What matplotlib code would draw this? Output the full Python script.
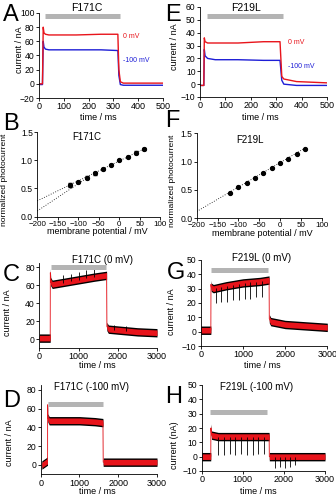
import numpy as np
import matplotlib
matplotlib.use('Agg')
import matplotlib.pyplot as plt

plt.rcParams['font.family'] = ['Liberation Sans', 'DejaVu Sans']
plt.rcParams['font.size'] = 6.5

# A: F171C, short light pulse at 0 mV and -100 mV
a_t = [0, 14, 17, 20, 26, 40, 150, 250, 318, 322, 328, 340, 500]
a_0mv = [0, 0, 80, 72, 70, 69, 69, 70, 70, 20, 3, 1, 1]
a_100mv = [-1, -1, 60, 52, 49, 48, 48, 48, 47, 12, -1, -2, -2]

# E: F219L, short light pulse
e_t = [0, 15, 17, 20, 30, 60, 150, 250, 315, 322, 330, 380, 500]
e_0mv = [-1, -1, 36, 33, 32, 32, 32, 33, 33, 6, 4, 2, 1]
e_100mv = [-1, -1, 27, 22, 20, 19, 19, 18.5, 18.5, 3, 0, -1, -1]

# B / F: normalized photocurrent vs membrane potential
vm = [-120, -100, -80, -60, -40, -20, 0, 20, 40, 60]
b_norm = [0.56, 0.62, 0.69, 0.765, 0.85, 0.92, 1.0, 1.065, 1.135, 1.2]
b_err = [0.04, 0.02, 0.03, 0.02, 0.02, 0.01, 0.0, 0.01, 0.02, 0.02]
b_fit1_v = [-200, 60]
b_fit1 = [0.28, 1.2]
b_fit2_v = [-200, -80]
b_fit2 = [0.10, 0.68]
f_norm = [0.45, 0.55, 0.63, 0.72, 0.80, 0.89, 0.97, 1.05, 1.14, 1.23]
f_fit_v = [-200, 60]
f_fit = [0.12, 1.24]

# C / D / G / H: long light pulses
c_t = [0, 278, 281, 290, 330, 600, 1000, 1400, 1715, 1722, 1760, 2000, 2500, 3000]
c_i = [1, 1, 74, 64, 61, 63, 66, 69, 71, 14, 11, 10, 8, 7]
c_spk_t = [600, 800, 1000, 1200, 1400, 1900, 2200]
c_spk_hi = [71, 73, 75, 77, 79, 16, 14]

g_t = [0, 240, 243, 250, 300, 600, 1000, 1400, 1620, 1625, 1660, 2000, 2500, 3000]
g_i = [1, 1, 33, 31, 30, 32, 34, 35, 36, 9, 7, 5, 4, 3]
g_spk_t = [370, 490, 630, 765, 905, 1040, 1180, 1315, 1455]
g_spk_lo = [20, 21, 21, 22, 22, 23, 23, 24, 24]

d_t = [30, 170, 175, 178, 185, 220, 600, 1000, 1400, 1605, 1612, 1650, 3000]
d_i = [0, 4, 4, 64, 50, 47, 47, 47, 46, 45, 3, 3, 3]

h_t = [0, 220, 223, 240, 400, 1000, 1640, 1645, 1700, 3000]
h_i = [0, 0, 20, 15, 14, 14, 14, 0, 0, 0]
h_spk_t = [400, 540, 680, 820, 960, 1100, 1240, 1380, 1520, 1780, 1900, 2020, 2140, 2260]
h_spk_lo = [1, 1, 2, 1, 2, 1, 1, 2, 2, -8, -7, -8, -7, -6]

W, H = 336, 500
fig = plt.figure(figsize=(W / 100, H / 100), dpi=100)
RED = '#e8141b'
BLUE = '#1d1dd6'
GRAY = '#b4b4b4'


def box(x0, x1, y0, y1):
    # pixel box, origin top-left -> figure rect
    return [x0 / W, 1 - y1 / H, (x1 - x0) / W, (y1 - y0) / H]


def style(ax, xlim, ylim, xt, yt, yfmt=None, xsize=6.5):
    ax.set_xlim(*xlim)
    ax.set_ylim(*ylim)
    ax.set_xticks(xt)
    ax.set_yticks(yt)
    if yfmt:
        ax.set_yticklabels([yfmt % v for v in yt])
    for s in ['top', 'right']:
        ax.spines[s].set_visible(False)
    for s in ['left', 'bottom']:
        ax.spines[s].set_linewidth(0.6)
    ax.tick_params(length=2, width=0.6, pad=1.2, labelsize=6.2)
    ax.tick_params(axis='x', labelsize=xsize, pad=1)
    ax.patch.set_alpha(0)


def ftext(x, y, s, **kw):
    fig.text(x / W, 1 - y / H, s, **kw)


def letter(x, y, s):
    ftext(x, y, s, fontsize=17, ha='left', va='top')


def ylab(x, y, s, size=6.5):
    ftext(x, y, s, fontsize=size, rotation=90, ha='center', va='center')


def xlab(x, y, s):
    ftext(x, y, s, fontsize=6.5, ha='center', va='center')


def bar(ax, x0, x1, y):
    ax.plot([x0, x1], [y, y], color=GRAY, lw=3.6, solid_capstyle='butt', clip_on=False)


def band(ax, t, i):
    # noisy trace drawn as a red band with black noise edges, widths in pixels
    t = np.asarray(t, float)
    i = np.asarray(i, float)
    y0, y1 = ax.get_ylim()
    upp = (y1 - y0) / (ax.get_position().height * H)
    ax.fill_between(t, i - 4.2 * upp, i + 4.2 * upp, color='black', lw=0)
    ax.fill_between(t, i - 2.8 * upp, i + 2.8 * upp, color=RED, lw=0)
    ax.plot(t, i, color=RED, lw=0.6)


# A
ax = fig.add_axes(box(39, 163, 13, 98))
ax.plot(a_t, a_100mv, color=BLUE, lw=1.0)
ax.plot(a_t, a_0mv, color=RED, lw=1.0)
style(ax, (0, 500), (-20, 100), range(0, 501, 100), range(-20, 101, 20))
bar(ax, 25, 325, 96)
ftext(87, 8, 'F171C', fontsize=7.5, ha='center', va='center')
ftext(123, 37, '0 mV', fontsize=5, color=RED, va='center')
ftext(123, 61, '-100 mV', fontsize=5, color=BLUE, va='center')
letter(3, 4, 'A')
ylab(19, 50, 'current / nA')
xlab(98, 117, 'time / ms')

# E
ax = fig.add_axes(box(200, 327, 7, 97))
ax.plot(e_t, e_100mv, color=BLUE, lw=1.0)
ax.plot(e_t, e_0mv, color=RED, lw=1.0)
style(ax, (0, 500), (-10, 60), range(0, 501, 100), range(-10, 61, 10))
bar(ax, 27, 327, 53)
ftext(246, 8, 'F219L', fontsize=7.5, ha='center', va='center')
ftext(288, 43, '0 mV', fontsize=5, color=RED, va='center')
ftext(288, 67, '-100 mV', fontsize=5, color=BLUE, va='center')
letter(165, 4, 'E')
ylab(174, 47, 'current / nA')
xlab(260, 117, 'time / ms')

# B
ax = fig.add_axes(box(37.3, 160.3, 132, 216.6))
ax.plot(b_fit1_v, b_fit1, color='black', lw=0.6, ls=(0, (1, 2)))
ax.plot(b_fit2_v, b_fit2, color='black', lw=0.6, ls=(0, (1, 2)))
ax.errorbar(vm, b_norm, yerr=b_err, fmt='o', ms=2.8, color='black', elinewidth=0.6, capsize=1.2)
style(ax, (-200, 100), (0, 1.5), range(-200, 101, 50), [0, 0.5, 1.0, 1.5], '%.1f', xsize=5.8)
ftext(87, 137, 'F171C', fontsize=7, ha='center', va='center')
letter(3, 113, 'B')
ylab(5, 180, 'normalized photocurrent', 6.1)
xlab(97, 231, 'membrane potential / mV')

# F
ax = fig.add_axes(box(196.7, 321.7, 133.3, 218.3))
ax.plot(f_fit_v, f_fit, color='black', lw=0.6, ls=(0, (1, 2)))
ax.plot(vm, f_norm, 'o', ms=2.8, color='black')
style(ax, (-200, 100), (0, 1.5), range(-200, 101, 50), [0, 0.5, 1.0, 1.5], '%.1f', xsize=5.8)
ftext(250, 140, 'F219L', fontsize=7, ha='center', va='center')
letter(165, 110, 'F')
ylab(172, 181, 'normalized photocurrent', 6.1)
xlab(262, 233, 'membrane potential / mV')

# C
ax = fig.add_axes(box(39.3, 157, 262.8, 348))
style(ax, (0, 3000), (-10, 85), [0, 1000, 2000, 3000], range(0, 81, 20))
band(ax, c_t, c_i)
lvl = np.interp(c_spk_t, c_t, c_i)
ax.vlines(c_spk_t, lvl, c_spk_hi, color='black', lw=0.6)
bar(ax, 300, 1700, 80)
ftext(103, 260, 'F171C (0 mV)', fontsize=7, ha='center', va='center')
letter(3, 264, 'C')
ylab(8, 313, 'current / nA')
xlab(97, 365, 'time / ms')

# G
ax = fig.add_axes(box(200.7, 327.3, 260, 346))
style(ax, (0, 3000), (-10, 50), [0, 1000, 2000, 3000], range(-10, 51, 10))
band(ax, g_t, g_i)
lvl = np.interp(g_spk_t, g_t, g_i)
ax.vlines(g_spk_t, g_spk_lo, lvl, color='black', lw=0.6)
bar(ax, 250, 1600, 43)
ftext(262, 258, 'F219L (0 mV)', fontsize=7, ha='center', va='center')
letter(167, 262, 'G')
ylab(172, 312, 'current / nA')
xlab(262, 365, 'time / ms')

# D
ax = fig.add_axes(box(40.7, 157, 385, 474.4))
style(ax, (0, 3000), (-10, 85), [0, 1000, 2000, 3000], range(0, 81, 20))
band(ax, d_t, d_i)
bar(ax, 180, 1600, 65)
ftext(91, 387, 'F171C (-100 mV)', fontsize=7, ha='center', va='center')
letter(3, 390, 'D')
ylab(10, 443, 'current / nA')
xlab(97, 492, 'time / ms')

# H
ax = fig.add_axes(box(201.7, 325, 385, 471))
style(ax, (0, 3000), (-10, 50), [0, 1000, 2000, 3000], range(-10, 51, 10))
band(ax, h_t, h_i)
lvl = np.interp(h_spk_t, h_t, h_i)
ax.vlines(h_spk_t, h_spk_lo, lvl, color='black', lw=0.6)
bar(ax, 210, 1600, 31.5)
ftext(257, 387, 'F219L (-100 mV)', fontsize=7, ha='center', va='center')
letter(165, 386, 'H')
ylab(174, 445, 'current (nA)')
xlab(258, 491, 'time / ms')

fig.savefig('out.png', dpi=100)
